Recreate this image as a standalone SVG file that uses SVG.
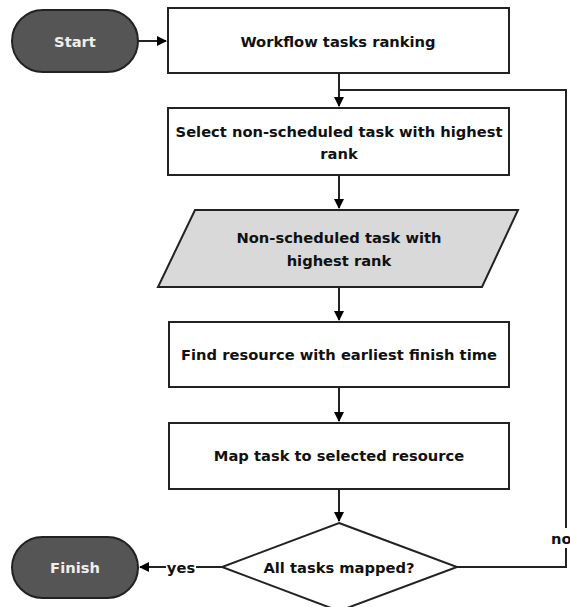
<svg xmlns="http://www.w3.org/2000/svg" width="570" height="607" viewBox="0 0 570 607">
<defs>
<marker id="ah" markerWidth="10" markerHeight="10" refX="9" refY="5" orient="auto" markerUnits="userSpaceOnUse">
<path d="M0,0 L10,5 L0,10 Z" fill="#000"/>
</marker>
<style>
.box{fill:#fff;stroke:#222;stroke-width:2}
.term{fill:#555;stroke:#222;stroke-width:2}
.io{fill:#d9d9d9;stroke:#222;stroke-width:2}
.t{font-family:"DejaVu Sans",sans-serif;font-size:14.7px;font-weight:bold;fill:#111;text-anchor:middle;dominant-baseline:central}
.tw{font-family:"DejaVu Sans",sans-serif;font-size:14.7px;font-weight:bold;fill:#eee;text-anchor:middle;dominant-baseline:central}
.c{fill:none;stroke:#222;stroke-width:2}
</style>
</defs>
<rect width="570" height="607" fill="#fff"/>
<g id="connectors">
<path class="c" d="M138,41 H166" marker-end="url(#ah)"/>
<path class="c" d="M339,73 V106" marker-end="url(#ah)"/>
<path class="c" d="M339,175 V208" marker-end="url(#ah)"/>
<path class="c" d="M339,287 V320" marker-end="url(#ah)"/>
<path class="c" d="M339,387 V421" marker-end="url(#ah)"/>
<path class="c" d="M339,489 V521" marker-end="url(#ah)"/>
<path class="c" d="M222,567 H140" marker-end="url(#ah)"/>
<path class="c" d="M457,567 H566 V90 H339"/>
<rect x="166" y="558" width="30" height="18" fill="#fff"/>
<text class="t" x="181" y="567">yes</text>
<rect x="550" y="528" width="20" height="20" fill="#fff"/>
<text class="t" x="551" y="538" style="text-anchor:start">no</text>
</g>
<g id="start">
<rect class="term" x="12" y="10" width="126" height="62" rx="31"/>
<text class="tw" x="75" y="41">Start</text>
</g>
<g id="ranking">
<rect class="box" x="168" y="8" width="341" height="65"/>
<text class="t" x="338" y="41">Workflow tasks ranking</text>
</g>
<g id="select">
<rect class="box" x="168" y="108" width="341" height="67"/>
<text class="t" x="339" y="131">Select non-scheduled task with highest</text>
<text class="t" x="339" y="153">rank</text>
</g>
<g id="nonscheduled">
<polygon class="io" points="195,210 518,210 482,287 158,287"/>
<text class="t" x="339" y="237">Non-scheduled task with</text>
<text class="t" x="339" y="260">highest rank</text>
</g>
<g id="find">
<rect class="box" x="169" y="322" width="340" height="65"/>
<text class="t" x="339" y="354">Find resource with earliest finish time</text>
</g>
<g id="map">
<rect class="box" x="169" y="423" width="340" height="66"/>
<text class="t" x="339" y="455">Map task to selected resource</text>
</g>
<g id="decision">
<polygon class="box" points="339,523 457,567 339,611 222,567"/>
<text class="t" x="339" y="567">All tasks mapped?</text>
</g>
<g id="finish">
<rect class="term" x="12" y="537" width="126" height="61" rx="30.5"/>
<text class="tw" x="75" y="567">Finish</text>
</g>
</svg>
